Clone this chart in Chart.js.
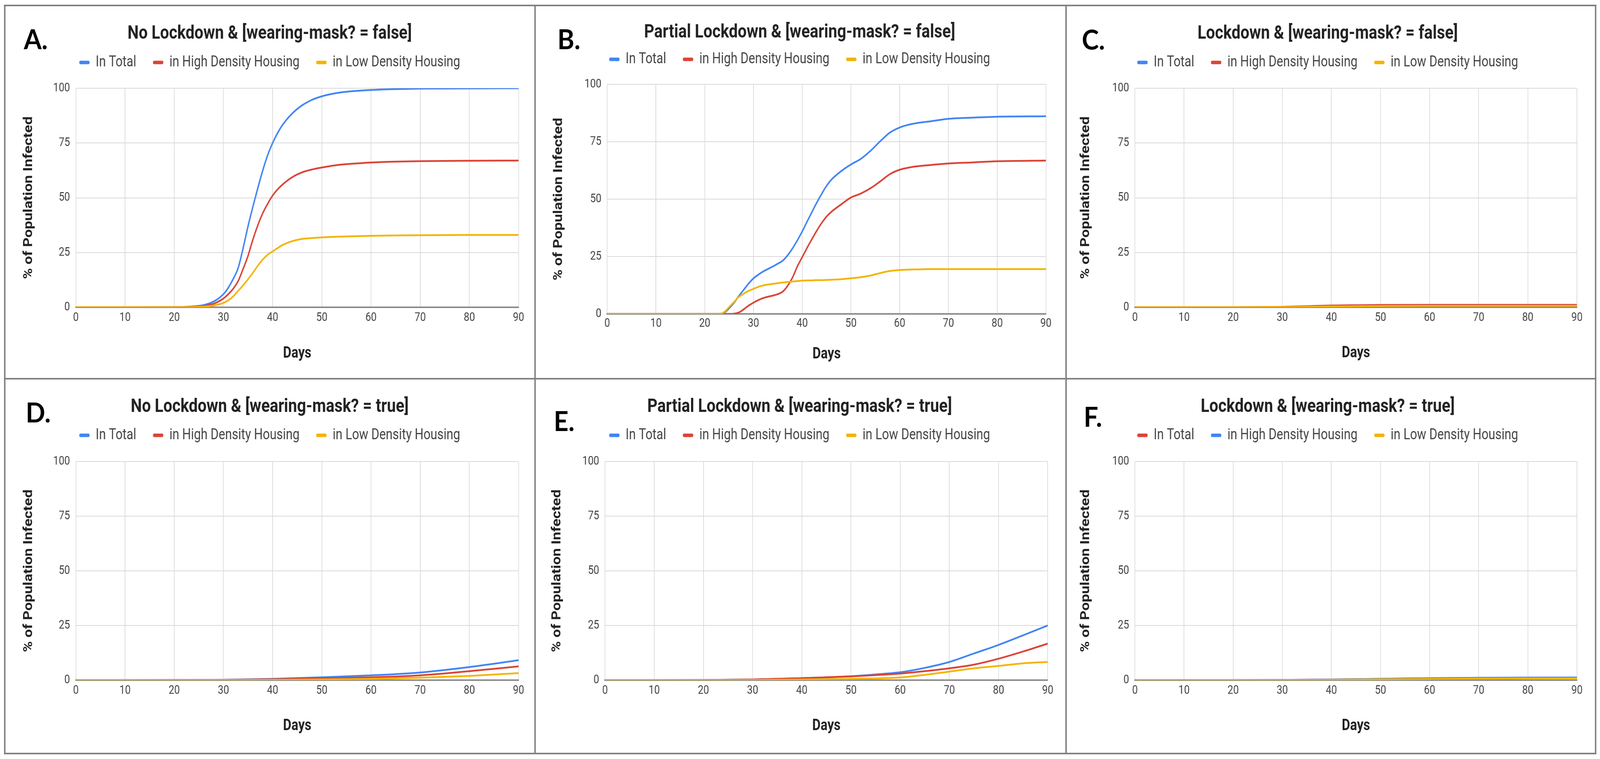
<!DOCTYPE html>
<html>
<head>
<meta charset="utf-8">
<script src="https://cdn.jsdelivr.net/npm/chart.js@4.4.1/dist/chart.umd.min.js"></script>
<style>
html,body{margin:0;padding:0;background:#fff;overflow:hidden;}
#root{position:absolute;left:0;top:0;width:4366px;height:1944px;transform-origin:0 0;font-family:Roboto,sans-serif;background:#fff;}
canvas{position:absolute;}
.ln{position:absolute;background:#808080;}
.lbl{position:absolute;font-family:Lato,'Open Sans',sans-serif;font-weight:700;font-size:70px;line-height:70px;color:#000;white-space:nowrap;}
</style>
</head>
<body>
<div id="root">
<div class="ln" style="left:11px;top:12px;width:4345px;height:4px;"></div>
<div class="ln" style="left:11px;top:1928px;width:4345px;height:4px;"></div>
<div class="ln" style="left:11px;top:12px;width:4px;height:1920px;"></div>
<div class="ln" style="left:4352px;top:12px;width:4px;height:1920px;"></div>
<div class="ln" style="left:1458px;top:12px;width:4px;height:1920px;"></div>
<div class="ln" style="left:2907px;top:12px;width:4px;height:1920px;"></div>
<div class="ln" style="left:11px;top:968px;width:4345px;height:4px;"></div>
</div>
<script>
// ---------------- DATA ----------------
const seriesLabels = ['In Total', 'in High Density Housing', 'in Low Density Housing'];
const xTickValues = [0, 10, 20, 30, 40, 50, 60, 70, 80, 90];
const yTickValues = [0, 25, 50, 75, 100];
const xAxisTitle = 'Days';
const yAxisTitle = '% of Population Infected';

// A. No Lockdown & mask false
const daysA  = [0, 10, 20, 22, 24, 26, 28, 30, 31, 32, 33, 34, 35, 36, 37, 38, 39, 40, 41, 42, 44, 46, 48, 50, 53, 56, 60, 65, 70, 80, 90];
const totalA = [0, 0, 0.05, 0.15, 0.4, 1.0, 2.6, 6, 9, 13, 18, 27, 37, 46, 54.5, 62.5, 69.5, 75, 79.5, 83.2, 88.5, 92.2, 94.7, 96.3, 97.8, 98.6, 99.2, 99.6, 99.8, 99.9, 100];
const highA  = [0, 0, 0.03, 0.1, 0.25, 0.6, 1.6, 4, 6, 8.5, 12, 17.5, 23.5, 31, 37.5, 43, 47.3, 51, 53.8, 56, 59.4, 61.6, 62.9, 63.8, 64.9, 65.5, 66.1, 66.5, 66.7, 66.9, 67];
const lowA   = [0, 0, 0.02, 0.05, 0.12, 0.3, 0.8, 2, 3.2, 5, 7.5, 10, 12.8, 15.8, 19, 21.8, 24, 25.5, 27, 28.4, 30.2, 31.2, 31.6, 31.9, 32.2, 32.4, 32.6, 32.8, 32.9, 33, 33];

// B. Partial Lockdown & mask false
const daysB  = [0, 10, 20, 22, 23, 24, 25, 26, 27, 28, 29, 30, 31, 32, 33, 34, 35, 36, 37, 38, 39, 40, 41, 42, 43, 44, 45, 46, 48, 50, 52, 54, 56, 58, 60, 62, 64, 66, 70, 75, 80, 90];
const totalB = [0, 0, 0, 0, 0, 0.5, 2.4, 4.8, 7.8, 10.5, 13.2, 15.5, 17.1, 18.5, 19.6, 20.7, 21.9, 23.2, 25.5, 28.5, 32, 35.9, 40.2, 44.4, 48.5, 52.3, 55.8, 58.5, 62.2, 65.1, 67.5, 71, 75.2, 79, 81.2, 82.5, 83.3, 83.8, 85, 85.5, 85.9, 86.1];
const highB  = [0, 0, 0, 0, 0, 0, 0, 0.1, 0.6, 2, 3.6, 4.9, 6, 6.9, 7.5, 8, 8.6, 9.7, 12.2, 15.8, 20.7, 24.7, 28.8, 32.6, 36.3, 39.6, 42.4, 44.5, 47.7, 50.7, 52.4, 54.7, 57.7, 60.9, 62.8, 63.8, 64.4, 64.8, 65.5, 66, 66.5, 66.8];
const lowB   = [0, 0, 0, 0, 0, 0.8, 3, 5.2, 7.4, 8.8, 10, 10.9, 11.8, 12.4, 12.8, 13.1, 13.4, 13.7, 13.9, 14.1, 14.3, 14.5, 14.6, 14.6, 14.7, 14.7, 14.8, 14.9, 15.1, 15.5, 16, 16.7, 17.8, 18.7, 19.1, 19.3, 19.4, 19.5, 19.5, 19.5, 19.5, 19.5];

// C. Lockdown & mask false
const daysC  = [0, 10, 20, 30, 35, 40, 45, 50, 60, 70, 80, 90];
const totalC = [0, 0, 0.02, 0.15, 0.35, 0.6, 0.75, 0.85, 0.9, 0.9, 0.9, 0.9];
const highC  = [0, 0, 0.02, 0.2, 0.5, 0.8, 0.95, 1.05, 1.1, 1.1, 1.1, 1.1];
const lowC   = [0, 0, 0.01, 0.1, 0.25, 0.4, 0.5, 0.6, 0.65, 0.65, 0.65, 0.65];

// D. No Lockdown & mask true
const daysD  = [0, 10, 20, 30, 40, 50, 60, 70, 80, 90];
const totalD = [0, 0, 0.05, 0.2, 0.6, 1.3, 2.2, 3.5, 6.0, 9.1];
const highD  = [0, 0, 0.03, 0.15, 0.4, 0.8, 1.3, 2.2, 4.1, 6.3];
const lowD   = [0, 0, 0.02, 0.08, 0.15, 0.3, 0.6, 1.1, 1.9, 3.2];

// E. Partial Lockdown & mask true
const daysE  = [0, 10, 20, 30, 40, 50, 55, 60, 65, 70, 75, 80, 85, 90];
const totalE = [0, 0, 0.05, 0.3, 0.9, 1.8, 2.6, 3.6, 5.6, 8.3, 12.2, 16.1, 20.5, 25];
const highE  = [0, 0, 0.05, 0.3, 0.9, 1.7, 2.3, 3.0, 4.1, 5.4, 7.1, 9.8, 13.1, 16.7];
const lowE   = [0, 0, 0.02, 0.1, 0.3, 0.6, 0.8, 1.2, 2.4, 3.9, 5.4, 6.5, 7.7, 8.3];

// F. Lockdown & mask true
const daysF  = [0, 10, 20, 30, 40, 50, 60, 70, 80, 90];
const totalF = [0, 0, 0.02, 0.1, 0.3, 0.6, 0.85, 1.0, 1.05, 1.1];
const highF  = [0, 0, 0.02, 0.1, 0.3, 0.6, 0.9, 1.05, 1.15, 1.2];
const lowF   = [0, 0, 0.01, 0.05, 0.2, 0.4, 0.6, 0.7, 0.8, 0.85];

const titles = [
  'No Lockdown & [wearing-mask? = false]',
  'Partial Lockdown & [wearing-mask? = false]',
  'Lockdown & [wearing-mask? = false]',
  'No Lockdown & [wearing-mask? = true]',
  'Partial Lockdown & [wearing-mask? = true]',
  'Lockdown & [wearing-mask? = true]'
];
const letters = ['A.', 'B.', 'C.', 'D.', 'E.', 'F.'];

// ---------------- STYLE / LAYOUT ----------------
const root = document.getElementById('root');
// fit the 4366x1944 design into whatever viewport the browser really gives
root.style.transform = 'scale(' + (window.innerWidth / 4366) + ',' + (window.innerHeight / 1944) + ')';

const BLUE = '#4285F4', RED = '#DB4437', YELLOW = '#F4B400';
const panelSeries = [
  {days: daysA, series: [totalA, highA, lowA], colors: [BLUE, RED, YELLOW]},
  {days: daysB, series: [totalB, highB, lowB], colors: [BLUE, RED, YELLOW]},
  {days: daysC, series: [totalC, highC, lowC], colors: [BLUE, RED, YELLOW]},
  {days: daysD, series: [totalD, highD, lowD], colors: [BLUE, RED, YELLOW]},
  {days: daysE, series: [totalE, highE, lowE], colors: [BLUE, RED, YELLOW]},
  {days: daysF, series: [totalF, highF, lowF], colors: [RED, BLUE, YELLOW]}
];
const geoms = [
  {cx:736,  top:16,  titleY:87,   legendY:160,  plotL:207,  plotR:1415, plotT:226,  plotB:787,  xTickY:814,  xTitleY:906,  yTitleX:79,   yTickR:191,  lx:65,   ly:101},
  {cx:2182, top:16,  titleY:84,   legendY:152,  plotL:1657, plotR:2854, plotT:216,  plotB:804,  xTickY:829,  xTitleY:908,  yTitleX:1525, yTickR:1641, lx:1521, ly:101},
  {cx:3623, top:16,  titleY:87,   legendY:160,  plotL:3097, plotR:4303, plotT:226,  plotB:787,  xTickY:814,  xTitleY:905,  yTitleX:2964, yTickR:3081, lx:2952, ly:102},
  {cx:736,  top:974, titleY:1043, legendY:1115, plotL:207,  plotR:1415, plotT:1182, plotB:1742, xTickY:1769, xTitleY:1860, yTitleX:79,   yTickR:191,  lx:70,   ly:1057},
  {cx:2182, top:974, titleY:1043, legendY:1115, plotL:1651, plotR:2859, plotT:1182, plotB:1742, xTickY:1769, xTitleY:1860, yTitleX:1521, yTickR:1635, lx:1511, ly:1079},
  {cx:3623, top:974, titleY:1043, legendY:1115, plotL:3097, plotR:4303, plotT:1182, plotB:1742, xTickY:1769, xTitleY:1860, yTitleX:2964, yTickR:3081, lx:2957, ly:1068}
];

const FONT = 'Roboto';
// the reference charts are horizontally condensed; render each chart into a wider
// bitmap and show it squeezed to its box width
const CANVAS_W = 1420;
const BITMAP_W = 1614;
const K = CANVAS_W / BITMAP_W;
const TITLE_SIZE = 49, LEGEND_SIZE = 38, TICK_SIZE = 31, X_TITLE_SIZE = 40, Y_TITLE_SIZE = 38;
const LEGEND_PAD = 52;

function makePanel(i) {
  const g = geoms[i];
  const ps = panelSeries[i];
  const canvasLeft = g.cx - CANVAS_W / 2;
  // horizontal values in chart (bitmap) coordinates
  const padLR = (canvasLeft + CANVAS_W - g.plotR) / K;
  const yW = (g.plotL - canvasLeft) / K - padLR;
  const yLH = Y_TITLE_SIZE * 1.2;
  const yTitlePad = (g.yTitleX - canvasLeft) / K - padLR - yLH / 2;
  const tickPadY = (g.plotL - g.yTickR) / K;
  // vertical values (unchanged)
  const xLH = X_TITLE_SIZE * 1.2;
  const H = Math.round(g.xTitleY + xLH / 2 - g.top);
  const xH = g.top + H - g.plotB;
  const titleLH = TITLE_SIZE * 1.2;
  const tPadTop = g.titleY - g.top - titleLH / 2;
  const legendTop = g.legendY - LEGEND_PAD - LEGEND_SIZE / 2;
  const tPadBottom = legendTop - (g.top + tPadTop + titleLH);
  const legendH = LEGEND_SIZE + LEGEND_PAD + 10;
  const extra = g.plotT - (legendTop + legendH);
  const tickPadX = g.xTickY - g.plotB - TICK_SIZE * 1.2 / 2;

  const cv = document.createElement('canvas');
  cv.width = BITMAP_W; cv.height = H;
  cv.style.left = canvasLeft + 'px'; cv.style.top = g.top + 'px';
  cv.style.width = CANVAS_W + 'px'; cv.style.height = H + 'px';
  root.appendChild(cv);

  const lab = document.createElement('div');
  lab.className = 'lbl';
  lab.textContent = letters[i];
  lab.style.left = g.lx + 'px';
  lab.style.top = (g.ly - 37) + 'px';
  root.appendChild(lab);

  const datasets = ps.series.map((vals, k) => ({
    label: seriesLabels[k],
    data: ps.days.map((d, j) => ({x: d, y: vals[j]})),
    borderColor: ps.colors[k],
    backgroundColor: ps.colors[k],
    borderWidth: 4.5,
    pointRadius: 0,
    pointHoverRadius: 0,
    fill: false,
    tension: 0.4,
    cubicInterpolationMode: 'monotone',
    order: 2 - k
  }));

  new Chart(cv, {
    type: 'line',
    data: {datasets},
    options: {
      responsive: false,
      animation: false,
      devicePixelRatio: 1,
      events: [],
      layout: {padding: {left: padLR, right: padLR, top: 0, bottom: 0}},
      plugins: {
        title: {
          display: true, text: titles[i], color: '#222',
          font: {family: FONT, size: TITLE_SIZE, weight: 'bold'},
          padding: {top: tPadTop, bottom: tPadBottom}
        },
        legend: {
          display: true, position: 'top',
          labels: {
            color: '#444', font: {family: FONT, size: LEGEND_SIZE},
            boxWidth: Math.round(28 / K), boxHeight: 9, padding: LEGEND_PAD,
            useBorderRadius: true, borderRadius: 4,
            sort: (a, b) => a.datasetIndex - b.datasetIndex,
            generateLabels: (chart) => Chart.defaults.plugins.legend.labels.generateLabels(chart).map(l => Object.assign(l, {lineWidth: 0}))
          }
        },
        tooltip: {enabled: false}
      },
      scales: {
        x: {
          type: 'linear', min: 0, max: 90,
          afterBuildTicks: (s) => { s.ticks = xTickValues.map(v => ({value: v})); },
          afterFit: (s) => { s.height = xH; },
          ticks: {color: '#444', font: {family: FONT, size: TICK_SIZE}, padding: tickPadX, maxRotation: 0, autoSkip: false},
          grid: {color: '#d9d9d9', lineWidth: 2, drawTicks: false},
          border: {display: true, color: '#8c8c8c', width: 4},
          title: {display: true, text: xAxisTitle, color: '#222', font: {family: FONT, size: X_TITLE_SIZE, weight: 'bold'}, padding: {top: 0, bottom: 0}}
        },
        y: {
          type: 'linear', min: 0, max: 100,
          afterBuildTicks: (s) => { s.ticks = yTickValues.map(v => ({value: v})); },
          afterFit: (s) => { s.width = yW; },
          ticks: {color: '#444', font: {family: FONT, size: TICK_SIZE}, padding: tickPadY},
          grid: {color: '#d9d9d9', lineWidth: 2, drawTicks: false},
          border: {display: false},
          title: {display: true, text: yAxisTitle, color: '#222', font: {family: FONT, size: Y_TITLE_SIZE, weight: 'bold'}, padding: {top: yTitlePad, bottom: 0}}
        }
      }
    },
    plugins: [{
      id: 'legendGap',
      beforeInit(chart) {
        const fit = chart.legend.fit;
        chart.legend.fit = function () { fit.call(this); this.height += extra; };
      }
    }]
  });
}

for (let i = 0; i < 6; i++) makePanel(i);
</script>
</body>
</html>
